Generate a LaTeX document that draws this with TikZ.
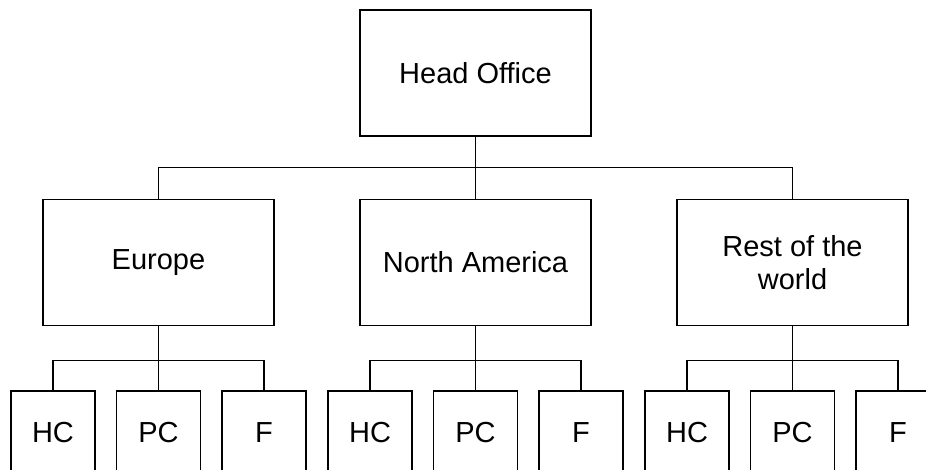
\documentclass[tikz,border=0pt]{standalone}
\usepackage{fontspec}
\setmainfont{Liberation Sans}
\usetikzlibrary{positioning}

\begin{document}
\begin{tikzpicture}[
    unit/.style={draw, line width=1.8pt, inner sep=0pt, align=center,
      font=\fontsize{29}{33}\selectfont},
    big/.style={unit, minimum width=231, minimum height=126},
    small/.style={unit, minimum width=84, minimum height=84},
    link/.style={line width=1.1pt},
    x=1pt,y=-1pt
    ]
    \useasboundingbox (0, 0) rectangle (926, 470);
    \node[big] (head) at (475.5, 73) {Head Office};
    \node[big] (eur) at (158.5, 262.5) {Europe};
    \node[big] (nam) at (475.5, 262.5) {North America};
    \node[big] (row) at (792.5, 262.5) {Rest of the\\world};
    \foreach \r in {eur, nam, row}
      \draw[link] (head.south) -- ++(0, 31) -| (\r.north);
    % bottom row under each region
    \foreach \r/\x in {eur/158.5, nam/475.5, row/792.5} {
      \node[small] (\r-hc) at (\x-105.5, 433) {HC};
      \node[small] (\r-pc) at (\x, 433) {PC};
      \node[small] (\r-f) at (\x+105.5, 433) {F};
      \foreach \s in {hc, pc, f}
        \draw[link] (\r.south) -- ++(0, 34) -| (\r-\s.north);
    }
  \end{tikzpicture}
\end{document}
